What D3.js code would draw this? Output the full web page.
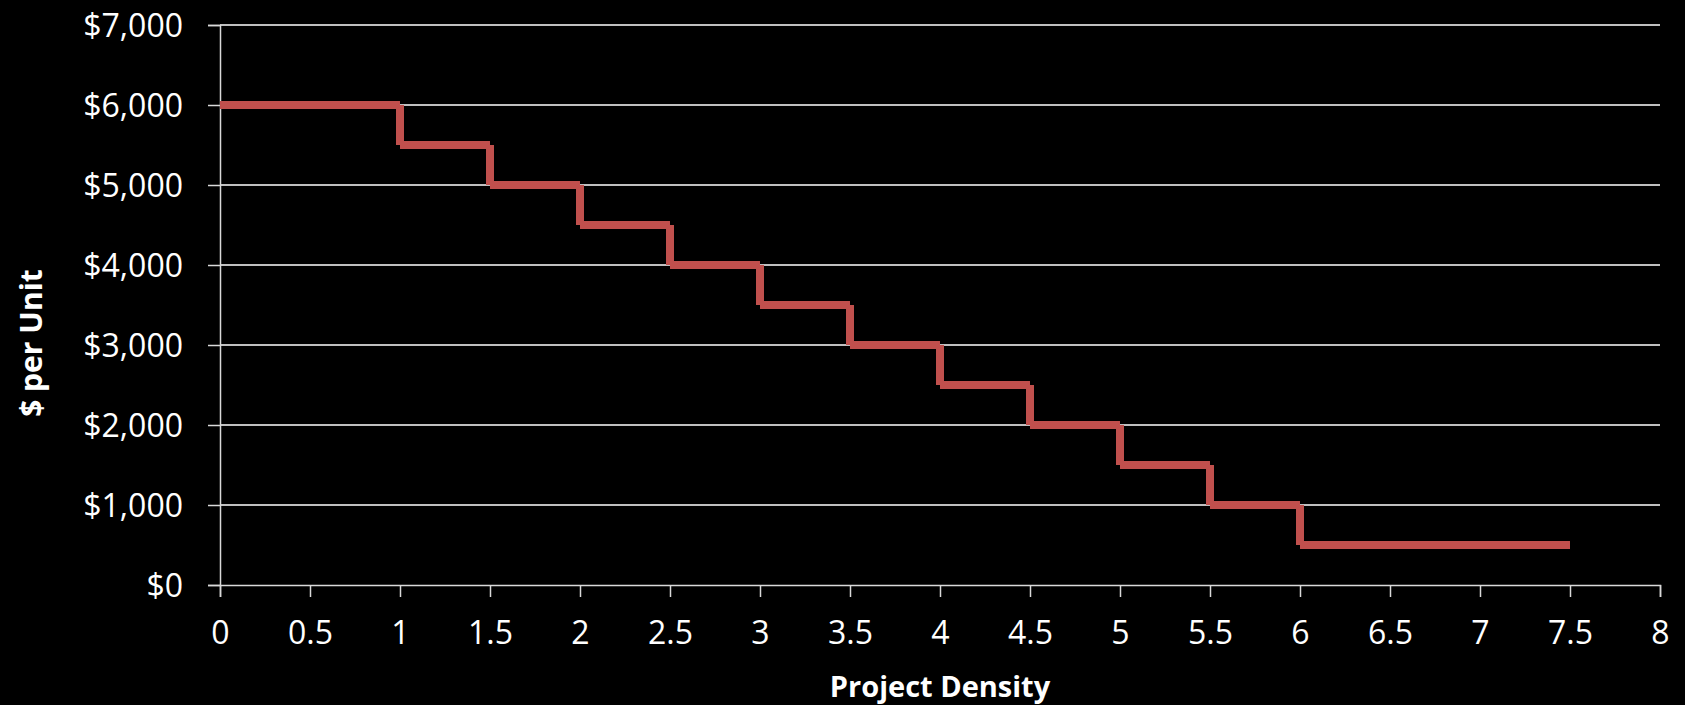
<!DOCTYPE html>
<html>
<head>
<meta charset="utf-8">
<script src="https://cdn.jsdelivr.net/npm/d3@7"></script>
<style>
  html, body { margin: 0; padding: 0; background: #000; }
  svg { display: block; }
  text { font-family: "Open Sans", sans-serif; fill: #fff; }
</style>
</head>
<body>
<svg id="chart" width="1685" height="705"></svg>
<script>
// Data: step series (Project Density vs $ per Unit)
const densityValues = [0, 0.5, 1, 1, 1.5, 1.5, 2, 2, 2.5, 2.5, 3, 3, 3.5, 3.5, 4, 4, 4.5, 4.5, 5, 5, 5.5, 5.5, 6, 6, 6.5, 7, 7.5];
const costValues    = [6000, 6000, 6000, 5500, 5500, 5000, 5000, 4500, 4500, 4000, 4000, 3500, 3500, 3000, 3000, 2500, 2500, 2000, 2000, 1500, 1500, 1000, 1000, 500, 500, 500, 500];
const xTicks = [0, 0.5, 1, 1.5, 2, 2.5, 3, 3.5, 4, 4.5, 5, 5.5, 6, 6.5, 7, 7.5, 8];
const yTicks = [0, 1000, 2000, 3000, 4000, 5000, 6000, 7000];
const xTitle = "Project Density";
const yTitle = "$ per Unit";

const W = 1685, H = 705;
const margin = { left: 220, right: 25, top: 25, bottom: 120 };
const svg = d3.select("#chart");

const x = d3.scaleLinear().domain([0, 8]).range([margin.left, W - margin.right]);
const y = d3.scaleLinear().domain([0, 7000]).range([H - margin.bottom, margin.top]);

// Gridlines
svg.append("g")
  .selectAll("line")
  .data(yTicks.filter(d => d > 0))
  .join("line")
  .attr("x1", x(0)).attr("x2", x(8))
  .attr("y1", d => y(d)).attr("y2", d => y(d))
  .attr("stroke", "#ffffff").attr("stroke-width", 1.5);

// Y axis
const fmt = d => "$" + d3.format(",")(d);
const yAxis = svg.append("g")
  .attr("transform", `translate(${x(0)},0)`)
  .call(d3.axisLeft(y).tickValues(yTicks).tickFormat(fmt).tickSize(12).tickPadding(25));
yAxis.select(".domain").attr("stroke", "#d9d9d9").attr("stroke-width", 1.5);
yAxis.selectAll(".tick line").attr("stroke", "#d9d9d9").attr("stroke-width", 1.5);
yAxis.selectAll(".tick text").attr("fill", "#fff").style("font-size", "32px")
  .style("font-family", "'Open Sans', sans-serif").attr("dy", "0.36em");

// X axis
const xAxis = svg.append("g")
  .attr("transform", `translate(0,${y(0)})`)
  .call(d3.axisBottom(x).tickValues(xTicks).tickFormat(d3.format("")).tickSize(12).tickPadding(24));
xAxis.select(".domain").attr("stroke", "#d9d9d9").attr("stroke-width", 1.5);
xAxis.selectAll(".tick line").attr("stroke", "#d9d9d9").attr("stroke-width", 1.5);
xAxis.selectAll(".tick text").attr("fill", "#fff").style("font-size", "32px")
  .style("font-family", "'Open Sans', sans-serif");

// Step series drawn as individual segments
const pts = densityValues.map((d, i) => [d, costValues[i]]);
const segs = d3.pairs(pts);
svg.append("g")
  .selectAll("line")
  .data(segs)
  .join("line")
  .attr("x1", d => x(d[0][0])).attr("y1", d => y(d[0][1]))
  .attr("x2", d => x(d[1][0])).attr("y2", d => y(d[1][1]))
  .attr("stroke", "#C0504D").attr("stroke-width", 8).attr("stroke-linecap", "butt");

// Axis titles
svg.append("text")
  .attr("x", (x(0) + x(8)) / 2).attr("y", 697)
  .attr("text-anchor", "middle")
  .style("font-size", "29px").style("font-weight", "bold")
  .text(xTitle);

svg.append("text")
  .attr("transform", `translate(42,343) rotate(-90)`)
  .attr("text-anchor", "middle")
  .style("font-size", "30px").style("font-weight", "bold")
  .text(yTitle);
</script>
</body>
</html>
